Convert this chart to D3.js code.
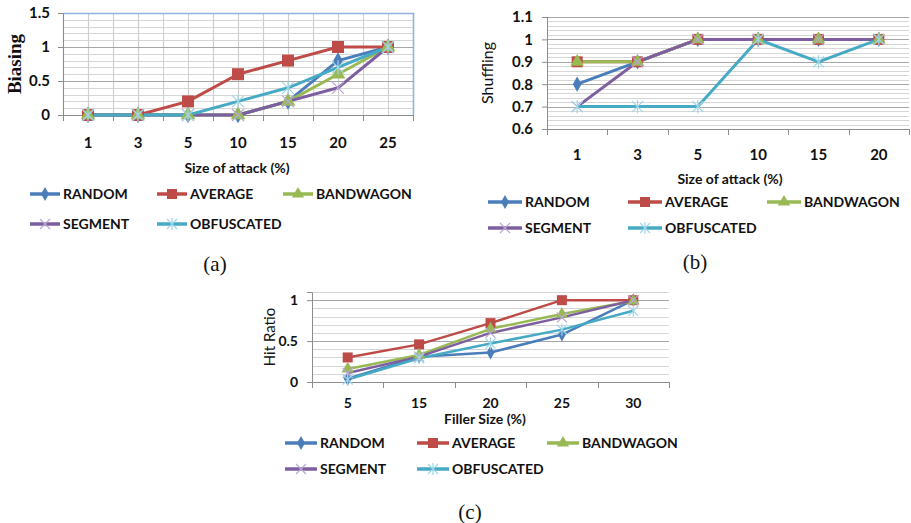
<!DOCTYPE html>
<html>
<head>
<meta charset="utf-8">
<script src="https://cdn.jsdelivr.net/npm/d3@7"></script>
<style>
  body { margin: 0; background: #fff; }
  svg text { font-family: Lato, "Open Sans", sans-serif; }
  .tick text { font-weight: bold; font-size: 14px; fill: #111; }
  .serif { font-family: "Liberation Serif", "DejaVu Serif", serif !important; }
</style>
</head>
<body>
<div id="chart"></div>
<script>
// series names and colours (Excel defaults)
const seriesNames = ["RANDOM", "AVERAGE", "BANDWAGON", "SEGMENT", "OBFUSCATED"];
const seriesColors = ["#4a7ebb", "#be4b48", "#98b954", "#7d5fa0", "#46aac5"];
const seriesSymbols = ["diamond", "square", "triangle", "cross", "star"];

// (a) biasing vs size of attack
const attackSizesA = ["1", "3", "5", "10", "15", "20", "25"];
const biasRandom     = [0, 0, 0, 0, 0.2, 0.8, 1];
const biasAverage    = [0, 0, 0.2, 0.6, 0.8, 1, 1];
const biasBandwagon  = [0, 0, 0, 0, 0.2, 0.6, 1];
const biasSegment    = [0, 0, 0, 0, 0.2, 0.4, 1];
const biasObfuscated = [0, 0, 0, 0.2, 0.4, 0.7, 1];
const biasTicks = [0, 0.5, 1, 1.5];

// (b) shuffling vs size of attack
const attackSizesB = ["1", "3", "5", "10", "15", "20"];
const shufRandom     = [0.8, 0.9, 1, 1, 1, 1];
const shufAverage    = [0.9, 0.9, 1, 1, 1, 1];
const shufBandwagon  = [0.9, 0.9, 1, 1, 1, 1];
const shufSegment    = [0.7, 0.9, 1, 1, 1, 1];
const shufObfuscated = [0.7, 0.7, 0.7, 1, 0.9, 1];
const shufTicks = [0.6, 0.7, 0.8, 0.9, 1, 1.1];

// (c) hit ratio vs filler size
const fillerSizes = ["5", "15", "20", "25", "30"];
const hitRandom     = [0.04, 0.31, 0.36, 0.58, 1];
const hitAverage    = [0.30, 0.46, 0.72, 1, 1];
const hitBandwagon  = [0.16, 0.33, 0.65, 0.83, 0.99];
const hitSegment    = [0.11, 0.31, 0.60, 0.79, 1];
const hitObfuscated = [0.03, 0.29, 0.47, 0.64, 0.87];
const hitTicks = [0, 0.5, 1];

const svg = d3.select("#chart").append("svg")
  .attr("width", 911)
  .attr("height", 523);

function symbolPath(name, size) {
  if (name === "cross") {
    const s = size;
    return `M${-s},${-s}L${s},${s}M${-s},${s}L${s},${-s}`;
  }
  if (name === "star") {
    const s = size;
    return `M${-s},${-s}L${s},${s}M${-s},${s}L${s},${-s}M0,${-s * 1.2}L0,${s * 1.2}`;
  }
  const type = { diamond: d3.symbolDiamond, square: d3.symbolSquare, triangle: d3.symbolTriangle }[name];
  const area = { diamond: size * size * 2.2, square: size * size * 4, triangle: size * size * 2.6 }[name];
  return d3.symbol().type(type).size(area)();
}

function drawMarker(g, name, color, x, y, size) {
  const open = name === "cross" || name === "star";
  g.append("path")
    .attr("transform", `translate(${x},${y})`)
    .attr("d", symbolPath(name, size))
    .attr("fill", open ? "none" : color)
    .attr("stroke", open ? (name === "cross" ? "#b9a6d3" : "#9fd6e6") : "none")
    .attr("stroke-width", 1.2);
}

function drawPanel(cfg) {
  const g = svg.append("g");
  const x = d3.scaleBand().domain(cfg.categories).range([cfg.left, cfg.right]);
  const y = d3.scaleLinear().domain(cfg.domain).range([cfg.bottom, cfg.top]);

  // minor horizontal gridlines
  g.append("g").selectAll("line")
    .data(d3.range(cfg.domain[0], cfg.domain[1] + 1e-9, cfg.minor))
    .join("line")
    .attr("x1", cfg.left).attr("x2", cfg.right)
    .attr("y1", d => Math.round(y(d)) + 0.5).attr("y2", d => Math.round(y(d)) + 0.5)
    .attr("stroke", "#d6d6d6").attr("stroke-width", 1.2);

  // vertical gridlines (panel a only: boundaries and centres)
  if (cfg.vgrid) {
    const xs = [];
    cfg.categories.forEach(c => {
      xs.push(x(c));
      xs.push(x(c) + x.bandwidth() / 2);
    });
    xs.push(cfg.right);
    g.append("g").selectAll("line")
      .data(xs)
      .join("line")
      .attr("x1", d => Math.round(d) + 0.5).attr("x2", d => Math.round(d) + 0.5)
      .attr("y1", cfg.top).attr("y2", cfg.bottom)
      .attr("stroke", "#cfcfcf").attr("stroke-width", 1.2);
  }

  // major horizontal gridlines
  g.append("g").selectAll("line")
    .data(cfg.majorGrid)
    .join("line")
    .attr("x1", cfg.left).attr("x2", cfg.right)
    .attr("y1", d => Math.round(y(d)) + 0.5).attr("y2", d => Math.round(y(d)) + 0.5)
    .attr("stroke", "#a6a6a6").attr("stroke-width", 1.2);

  if (cfg.border) {
    g.append("path")
      .attr("d", `M${cfg.left},${cfg.top + 0.5}H${cfg.right + 0.5}V${cfg.bottom}`)
      .attr("fill", "none").attr("stroke", "#8db3e2").attr("stroke-width", 1.5);
  }

  // y axis
  const yAxis = g.append("g")
    .attr("transform", `translate(${cfg.left},0)`)
    .call(d3.axisLeft(y).tickValues(cfg.ticks).tickSize(5).tickPadding(cfg.yPad)
      .tickFormat(d => d3.format("")(+d.toFixed(2))));
  yAxis.select(".domain").attr("stroke", "#8c8c8c");
  yAxis.selectAll(".tick line").attr("stroke", "#8c8c8c");
  yAxis.selectAll(".tick text").style("font-size", cfg.tickSize + "px");

  // x axis
  const xAxis = g.append("g")
    .attr("transform", `translate(0,${cfg.bottom})`)
    .call(d3.axisBottom(x).tickSize(0).tickPadding(cfg.xPad));
  xAxis.select(".domain").attr("stroke", "#8c8c8c");
  xAxis.selectAll(".tick text").style("font-size", cfg.tickSize + "px");
  xAxis.append("g").selectAll("line")
    .data(cfg.categories.map(c => x(c)).concat([cfg.right]))
    .join("line")
    .attr("x1", d => Math.round(d) + 0.5).attr("x2", d => Math.round(d) + 0.5)
    .attr("y1", 0).attr("y2", 6)
    .attr("stroke", "#8c8c8c");

  // series lines
  const line = d3.line()
    .x((d, i) => x(cfg.categories[i]) + x.bandwidth() / 2)
    .y(d => y(d));
  cfg.series.forEach((vals, k) => {
    g.append("path")
      .datum(vals)
      .attr("d", line)
      .attr("fill", "none")
      .attr("stroke", seriesColors[k])
      .attr("stroke-width", cfg.lineWidth)
      .attr("stroke-linejoin", "round");
  });
  cfg.series.forEach((vals, k) => {
    vals.forEach((v, i) => {
      drawMarker(g, seriesSymbols[k], seriesColors[k],
        x(cfg.categories[i]) + x.bandwidth() / 2, y(v), cfg.markerSize);
    });
  });

  // y title
  g.append("text")
    .attr("class", cfg.yTitleSerif ? "serif" : null)
    .attr("transform", `translate(${cfg.yTitleX},${(cfg.top + cfg.bottom) / 2}) rotate(-90)`)
    .attr("text-anchor", "middle")
    .attr("font-size", cfg.yTitleSize)
    .attr("font-weight", cfg.yTitleSerif ? "bold" : "normal")
    .attr("fill", "#111")
    .text(cfg.yTitle);

  // x title
  g.append("text")
    .attr("x", cfg.xTitleX).attr("y", cfg.xTitleY)
    .attr("text-anchor", "middle")
    .attr("font-size", 14).attr("font-weight", "bold").attr("fill", "#111")
    .text(cfg.xTitle);

  // legend
  const legendX = cfg.legendX, legendY = cfg.legendY;
  seriesNames.forEach((name, k) => {
    const lx = legendX[k % 3], ly = legendY[Math.floor(k / 3)];
    g.append("line")
      .attr("x1", lx).attr("x2", lx + cfg.legendLen)
      .attr("y1", ly).attr("y2", ly)
      .attr("stroke", seriesColors[k]).attr("stroke-width", 3.5);
    drawMarker(g, seriesSymbols[k], seriesColors[k], lx + cfg.legendLen / 2, ly, 5);
    g.append("text")
      .attr("x", lx + cfg.legendLen + 3).attr("y", ly + 5)
      .attr("font-size", 14).attr("font-weight", "bold").attr("fill", "#111")
      .text(name);
  });

  // caption
  g.append("text")
    .attr("class", "serif")
    .attr("x", cfg.captionX).attr("y", cfg.captionY)
    .attr("text-anchor", "middle")
    .attr("font-size", 21).attr("fill", "#111")
    .text(cfg.caption);
}

drawPanel({
  categories: attackSizesA,
  series: [biasRandom, biasAverage, biasBandwagon, biasSegment, biasObfuscated],
  domain: [0, 1.5], ticks: biasTicks, majorGrid: biasTicks, minor: 0.1,
  left: 63, right: 413, top: 13, bottom: 115,
  vgrid: true, border: true, yPad: 8, xPad: 22, tickSize: 15,
  lineWidth: 3, markerSize: 6,
  yTitle: "Biasing", yTitleSerif: true, yTitleX: 21, yTitleSize: 19,
  xTitle: "Size of attack (%)", xTitleX: 237, xTitleY: 173,
  legendX: [30, 157, 283], legendY: [194, 224], legendLen: 30,
  caption: "(a)", captionX: 215, captionY: 271
});

drawPanel({
  categories: attackSizesB,
  series: [shufRandom, shufAverage, shufBandwagon, shufSegment, shufObfuscated],
  domain: [0.6, 1.1], ticks: shufTicks, majorGrid: shufTicks, minor: 0.02,
  left: 547, right: 909, top: 17, bottom: 129,
  vgrid: false, border: false, yPad: 9, xPad: 20, tickSize: 15,
  lineWidth: 3, markerSize: 5.5,
  yTitle: "Shuffling", yTitleSerif: false, yTitleX: 493, yTitleSize: 16,
  xTitle: "Size of attack (%)", xTitleX: 730, xTitleY: 184,
  legendX: [488, 628, 767], legendY: [202, 228], legendLen: 34,
  caption: "(b)", captionX: 695, captionY: 269
});

drawPanel({
  categories: fillerSizes,
  series: [hitRandom, hitAverage, hitBandwagon, hitSegment, hitObfuscated],
  domain: [0, 1.1], ticks: hitTicks, majorGrid: hitTicks, minor: 0.1,
  left: 312, right: 669, top: 292, bottom: 382,
  vgrid: false, border: false, yPad: 9, xPad: 16, tickSize: 14,
  lineWidth: 2.5, markerSize: 5,
  yTitle: "Hit Ratio", yTitleSerif: false, yTitleX: 275, yTitleSize: 15,
  xTitle: "Filler Size (%)", xTitleX: 485, xTitleY: 424,
  legendX: [285, 417, 547], legendY: [443, 469], legendLen: 32,
  caption: "(c)", captionX: 470, captionY: 519
});
</script>
</body>
</html>
